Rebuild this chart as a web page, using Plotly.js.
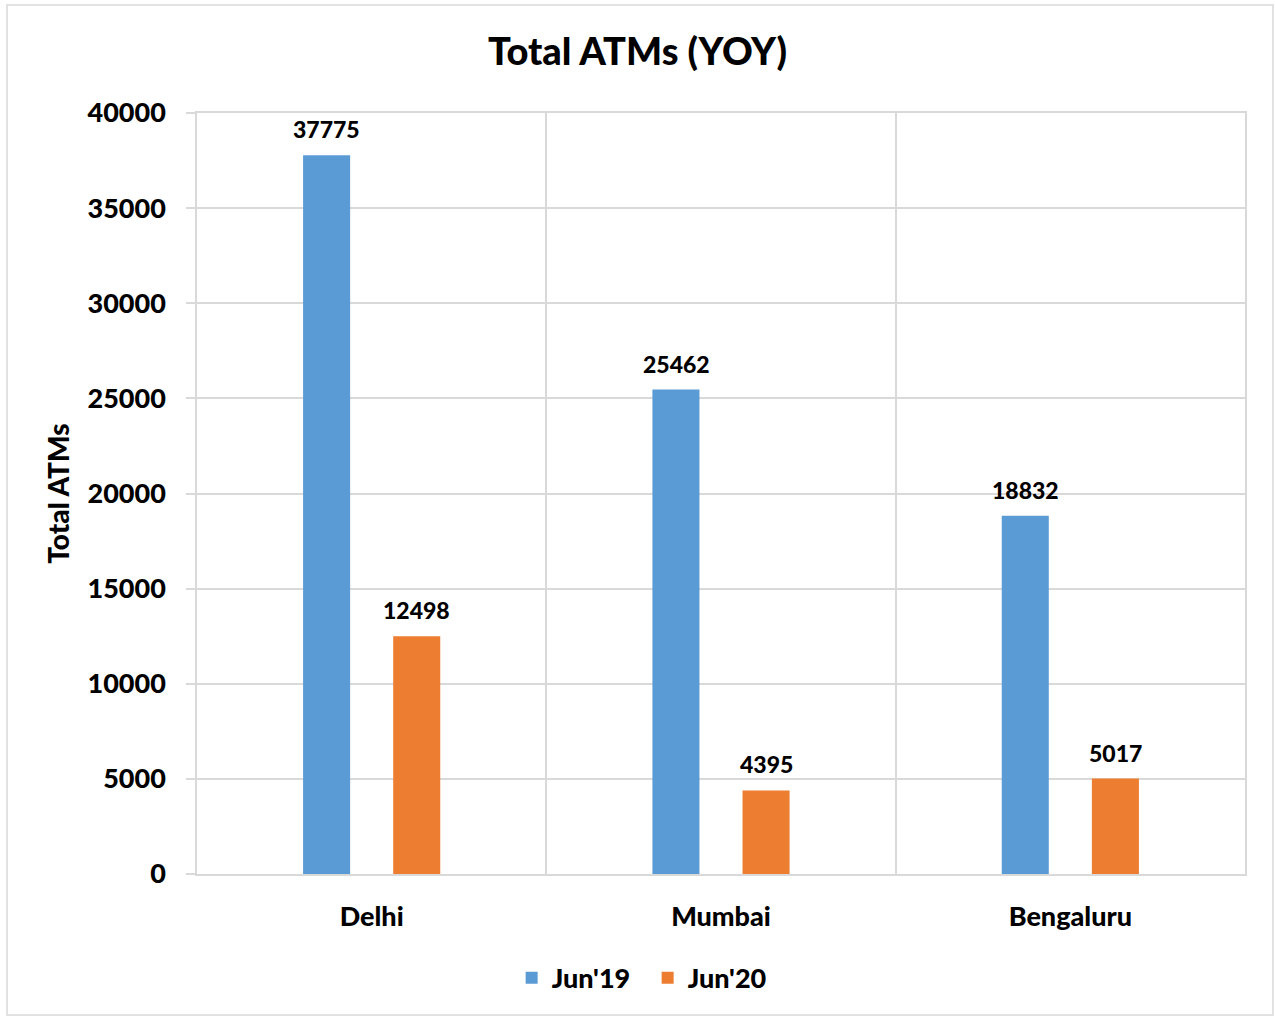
<!DOCTYPE html>
<html>
<head>
<meta charset="utf-8">
<script src="https://cdn.plot.ly/plotly-3.0.1.min.js"></script>
<style>html,body{margin:0;padding:0;background:#fff;}#chart{width:1275px;height:1017px;}</style>
</head>
<body>
<div id="chart"></div>
<script>
const categories = ["Delhi", "Mumbai", "Bengaluru"];
const seriesNames = ["Jun'19", "Jun'20"];
const jun19 = [37775, 25462, 18832];
const jun20 = [12498, 4395, 5017];
const yTicks = [0, 5000, 10000, 15000, 20000, 25000, 30000, 35000, 40000];

const FONT = "Lato, 'Open Sans', sans-serif";
const W = 900;
const colors = ["#5b9bd5", "#ed7d31"];
const seriesValues = [jun19, jun20];

const traces = seriesValues.map((vals, i) => ({
  type: "bar",
  name: seriesNames[i],
  x: categories,
  y: vals,
  marker: {color: colors[i]},
  hoverinfo: "x+y"
}));

const annotations = [];
seriesValues.forEach((vals, i) => {
  vals.forEach((v, j) => {
    annotations.push({
      x: categories[j], y: v, xref: "x", yref: "y",
      text: String(v), showarrow: false,
      xshift: i === 0 ? -45 : 45, yshift: 10, yanchor: "bottom",
      font: {family: FONT, size: 23, color: "#000", weight: W}
    });
  });
});

const layout = {
  width: 1275, height: 1017,
  margin: {l: 197, r: 30, t: 113, b: 143},
  paper_bgcolor: "#fff", plot_bgcolor: "#fff",
  font: {family: FONT, color: "#000"},
  title: {text: "Total ATMs (YOY)", x: 0.5, xref: "container", y: 1 - 52/1017, yref: "container", yanchor: "middle", xanchor: "center",
          font: {family: FONT, size: 38, color: "#000", weight: W}},
  barmode: "group",
  bargap: 0.484,
  bargroupgap: 0.478,
  xaxis: {
    type: "category",
    tickson: "boundaries",
    showgrid: true, gridcolor: "#d9d9d9", gridwidth: 1.5,
    ticks: "", ticklabelstandoff: 18,
    showline: true, mirror: true, linecolor: "#d9d9d9", linewidth: 1.5,
    tickfont: {family: FONT, size: 27, color: "#000", weight: W},
    fixedrange: true
  },
  yaxis: {
    range: [0, 40000],
    tickvals: yTicks,
    ticktext: yTicks.map(String),
    showgrid: true, gridcolor: "#d9d9d9", gridwidth: 1.5,
    zeroline: false,
    ticks: "outside", ticklen: 9, tickcolor: "#d9d9d9", tickwidth: 1.5,
    ticklabelstandoff: 15,
    showline: true, mirror: true, linecolor: "#d9d9d9", linewidth: 1.5,
    tickfont: {family: FONT, size: 27, color: "#000", weight: W},
    title: {text: "Total ATMs", standoff: 10, font: {family: FONT, size: 28, color: "#000", weight: W}},
    fixedrange: true
  },
  legend: {
    orientation: "h", x: 0.43, xanchor: "center", y: -0.137, yanchor: "middle",
    entrywidth: 91,
    font: {family: FONT, size: 27, color: "#000", weight: W},
    itemclick: false, itemdoubleclick: false
  },
  annotations: annotations,
  shapes: [{
    type: "rect", xref: "paper", yref: "paper",
    x0: (7-197)/1048, x1: (1273-197)/1048, y0: (874-1015)/761, y1: (874-5)/761,
    line: {color: "#d9d9d9", width: 1.5}, fillcolor: "rgba(0,0,0,0)", layer: "below"
  }]
};

Plotly.newPlot("chart", traces, layout, {displayModeBar: false});
</script>
</body>
</html>
